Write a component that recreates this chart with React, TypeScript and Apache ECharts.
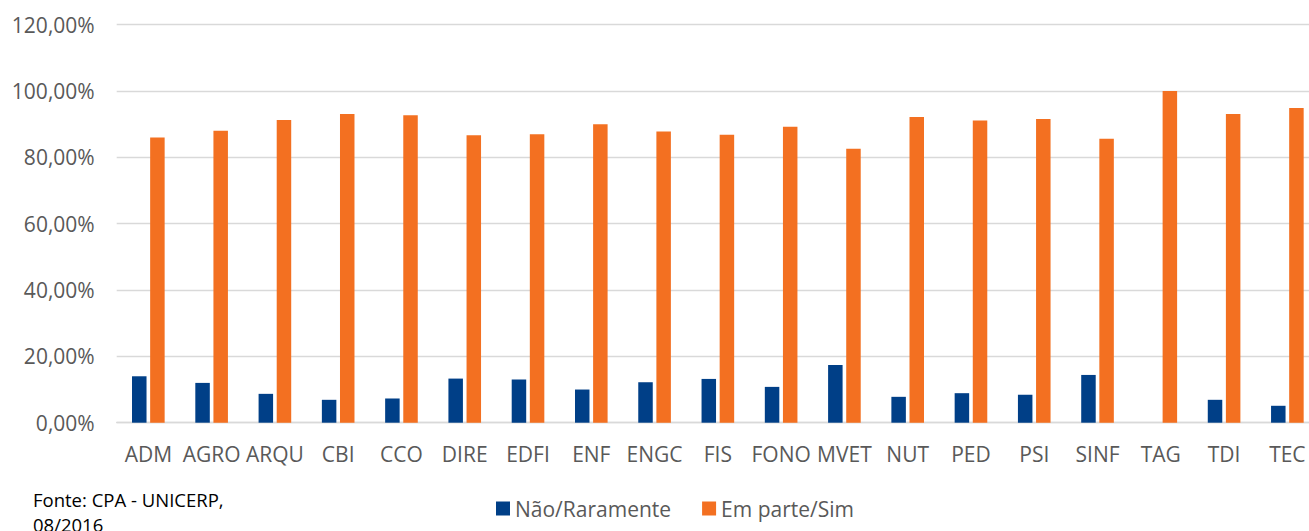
import React, { useEffect, useRef } from "react";
import * as echarts from "echarts";

const categories = ["ADM", "AGRO", "ARQU", "CBI", "CCO", "DIRE", "EDFI", "ENF", "ENGC", "FIS", "FONO", "MVET", "NUT", "PED", "PSI", "SINF", "TAG", "TDI", "TEC"];
const naoRaramente = [14.0, 12.0, 8.7, 6.9, 7.3, 13.3, 13.0, 10.0, 12.2, 13.2, 10.8, 17.4, 7.8, 8.9, 8.4, 14.4, 0, 6.9, 5.1];
const emParteSim = [86.0, 88.0, 91.3, 93.1, 92.7, 86.7, 87.0, 90.0, 87.8, 86.8, 89.2, 82.6, 92.2, 91.1, 91.6, 85.6, 100.0, 93.1, 94.9];
const seriesNames = ["Não/Raramente", "Em parte/Sim"];
const sourceLines = ["Fonte: CPA - UNICERP,", "08/2016"];

const FONT = "'Open Sans', sans-serif";

export default function App() {
  const ref = useRef<HTMLDivElement>(null);
  useEffect(() => {
    if (!ref.current) return;
    const chart = echarts.init(ref.current, null, { renderer: "svg" });
    chart.setOption({
      animation: false,
      backgroundColor: "#ffffff",
      textStyle: { fontFamily: FONT },
      grid: { left: 116.7, right: 0, top: 24.7, bottom: 108.3, containLabel: false },
      legend: {
        data: seriesNames,
        left: 496,
        top: 498,
        padding: 0,
        itemWidth: 14,
        itemHeight: 14,
        itemGap: 31,
        icon: "rect",
        textStyle: { fontFamily: FONT, fontSize: 21, color: "#595959", padding: [0, 0, 0, 0], lineHeight: 21 },
      },
      xAxis: {
        type: "category",
        data: categories,
        axisLine: { lineStyle: { color: "#D9D9D9", width: 1.3 } },
        axisTick: { show: false },
        axisLabel: { interval: 0, fontFamily: FONT, fontSize: 21, color: "#595959", margin: 21 },
      },
      yAxis: {
        type: "value",
        min: 0,
        max: 120,
        interval: 20,
        axisLine: { show: false },
        axisTick: { show: false },
        splitLine: { lineStyle: { color: "#D9D9D9", width: 1.3 } },
        axisLabel: {
          fontFamily: FONT,
          fontSize: 21,
          color: "#595959",
          margin: 22,
          formatter: (v: number) => v.toFixed(2).replace(".", ",") + "%",
        },
      },
      series: [
        {
          name: seriesNames[0],
          type: "bar",
          data: naoRaramente,
          barWidth: 14.5,
          barGap: "25%",
          itemStyle: { color: "#003F87" },
        },
        {
          name: seriesNames[1],
          type: "bar",
          data: emParteSim,
          barWidth: 14.5,
          itemStyle: { color: "#F37021" },
        },
      ],
      graphic: [
        {
          type: "text",
          left: 33,
          top: 487,
          style: {
            text: sourceLines.join("\n"),
            fontFamily: FONT,
            fontSize: 18.5,
            lineHeight: 25,
            fill: "#000000",
          },
        },
      ],
    });
    return () => chart.dispose();
  }, []);
  return (
    <div style={{ position: "fixed", left: 0, top: 0, width: 1309, height: 531, overflow: "hidden", background: "#fff" }}>
      <div ref={ref} style={{ width: 1319, height: 531 }} />
    </div>
  );
}
